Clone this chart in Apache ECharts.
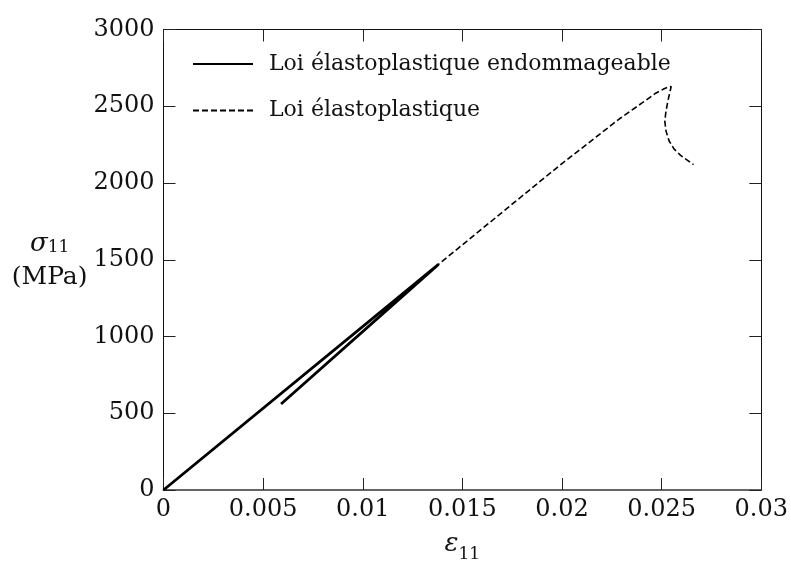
<!DOCTYPE html>
<html>
<head>
<meta charset="utf-8">
<script src="https://cdn.jsdelivr.net/npm/echarts@6/dist/echarts.min.js"></script>
<style>html,body{margin:0;padding:0;background:#fff}#c{width:791px;height:568px}</style>
</head>
<body>
<div id="c"></div>
<script>
// Loi élastoplastique endommageable (solid)
const damagedStrain = [0, 0.0138, 0.0059];
const damagedStress = [0, 1470, 560];
// Loi élastoplastique (dashed)
const plasticStrain = [0, 0.0138, 0.0198, 0.0229, 0.0240, 0.0247, 0.0251, 0.02535, 0.02548, 0.02540, 0.02530, 0.02521, 0.02516, 0.02522, 0.02537, 0.02562, 0.02595, 0.0266];
const plasticStress = [0, 1470, 2106, 2420, 2520, 2585, 2612, 2626, 2628, 2585, 2525, 2462, 2400, 2338, 2275, 2222, 2180, 2120];
const seriesNames = ['Loi élastoplastique endommageable', 'Loi élastoplastique'];
const xTickMin = 0, xTickMax = 0.03, xTickStep = 0.005;
const yTickMin = 0, yTickMax = 3000, yTickStep = 500;

const FONT = 'DejaVu Serif';
const pair = (xs, ys) => xs.map((x, i) => [x, ys[i]]);

const chart = echarts.init(document.getElementById('c'), null, {renderer: 'canvas'});
const axisBase = {
  type: 'value',
  splitLine: {show: false},
  axisTick: {show: true, inside: true, length: 12, lineStyle: {color: '#222', width: 1}},
  axisLine: {show: true, onZero: false, lineStyle: {color: '#111', width: 1}}
};
chart.setOption({
  animation: false,
  backgroundColor: '#fff',
  grid: {left: 163.5, right: 27, top: 29.5, bottom: 65.5, containLabel: false},
  legend: {
    data: seriesNames,
    orient: 'vertical',
    left: 187, top: 48,
    itemWidth: 60, itemHeight: 14,
    itemGap: 24.5,
    itemStyle: {opacity: 0},
    textStyle: {fontFamily: FONT, fontSize: 22, color: '#111', padding: [0, 0, 0, 11]}
  },
  xAxis: [
    Object.assign({}, axisBase, {
      min: xTickMin, max: xTickMax, interval: xTickStep, position: 'bottom',
      axisLine: {show: true, onZero: false, lineStyle: {color: '#666', width: 2}},
      axisLabel: {fontFamily: FONT, fontSize: 24, color: '#111', margin: 8,
        formatter: v => String(+v.toFixed(4))},
      name: '{e|ε}{sub|11}',
      nameLocation: 'middle', nameGap: 41,
      nameTextStyle: {rich: {
        e: {fontFamily: FONT, fontStyle: 'italic', fontSize: 26, color: '#111', verticalAlign: 'bottom'},
        sub: {fontFamily: FONT, fontSize: 17, color: '#111', verticalAlign: 'bottom', padding: [0, 0, -6, 0]}
      }}
    }),
    Object.assign({}, axisBase, {
      min: xTickMin, max: xTickMax, interval: xTickStep, position: 'top',
      axisLabel: {show: false}
    })
  ],
  yAxis: [
    Object.assign({}, axisBase, {
      min: yTickMin, max: yTickMax, interval: yTickStep, position: 'left',
      axisLabel: {fontFamily: FONT, fontSize: 24, color: '#111', margin: 9, padding: [0, 0, 6, 0],
        formatter: v => String(v)},
      name: '{s|σ}{sub|11}\n{m|(MPa)}',
      nameLocation: 'middle', nameRotate: 0, nameGap: 70,
      nameTextStyle: {align: 'center', rich: {
        s: {fontFamily: FONT, fontStyle: 'italic', fontSize: 26, color: '#111', align: 'center', lineHeight: 36},
        sub: {fontFamily: FONT, fontSize: 17, color: '#111', align: 'center', padding: [8, 0, 0, 0], lineHeight: 36},
        m: {fontFamily: FONT, fontSize: 25, color: '#111', align: 'center', lineHeight: 32}
      }}
    }),
    Object.assign({}, axisBase, {
      min: yTickMin, max: yTickMax, interval: yTickStep, position: 'right',
      axisLabel: {show: false}
    })
  ],
  series: [
    {
      name: seriesNames[1], type: 'line', xAxisIndex: 0, yAxisIndex: 0,
      data: pair(plasticStrain, plasticStress),
      symbol: 'none', smooth: false,
      lineStyle: {color: '#000', width: 1.6, type: [6, 3]},
      itemStyle: {color: '#000'}, z: 2
    },
    {
      name: seriesNames[0], type: 'line', xAxisIndex: 0, yAxisIndex: 0,
      data: pair(damagedStrain, damagedStress),
      symbol: 'none', smooth: false,
      lineStyle: {color: '#000', width: 2.8},
      itemStyle: {color: '#000'}, z: 3
    }
  ]
});
</script>
</body>
</html>
